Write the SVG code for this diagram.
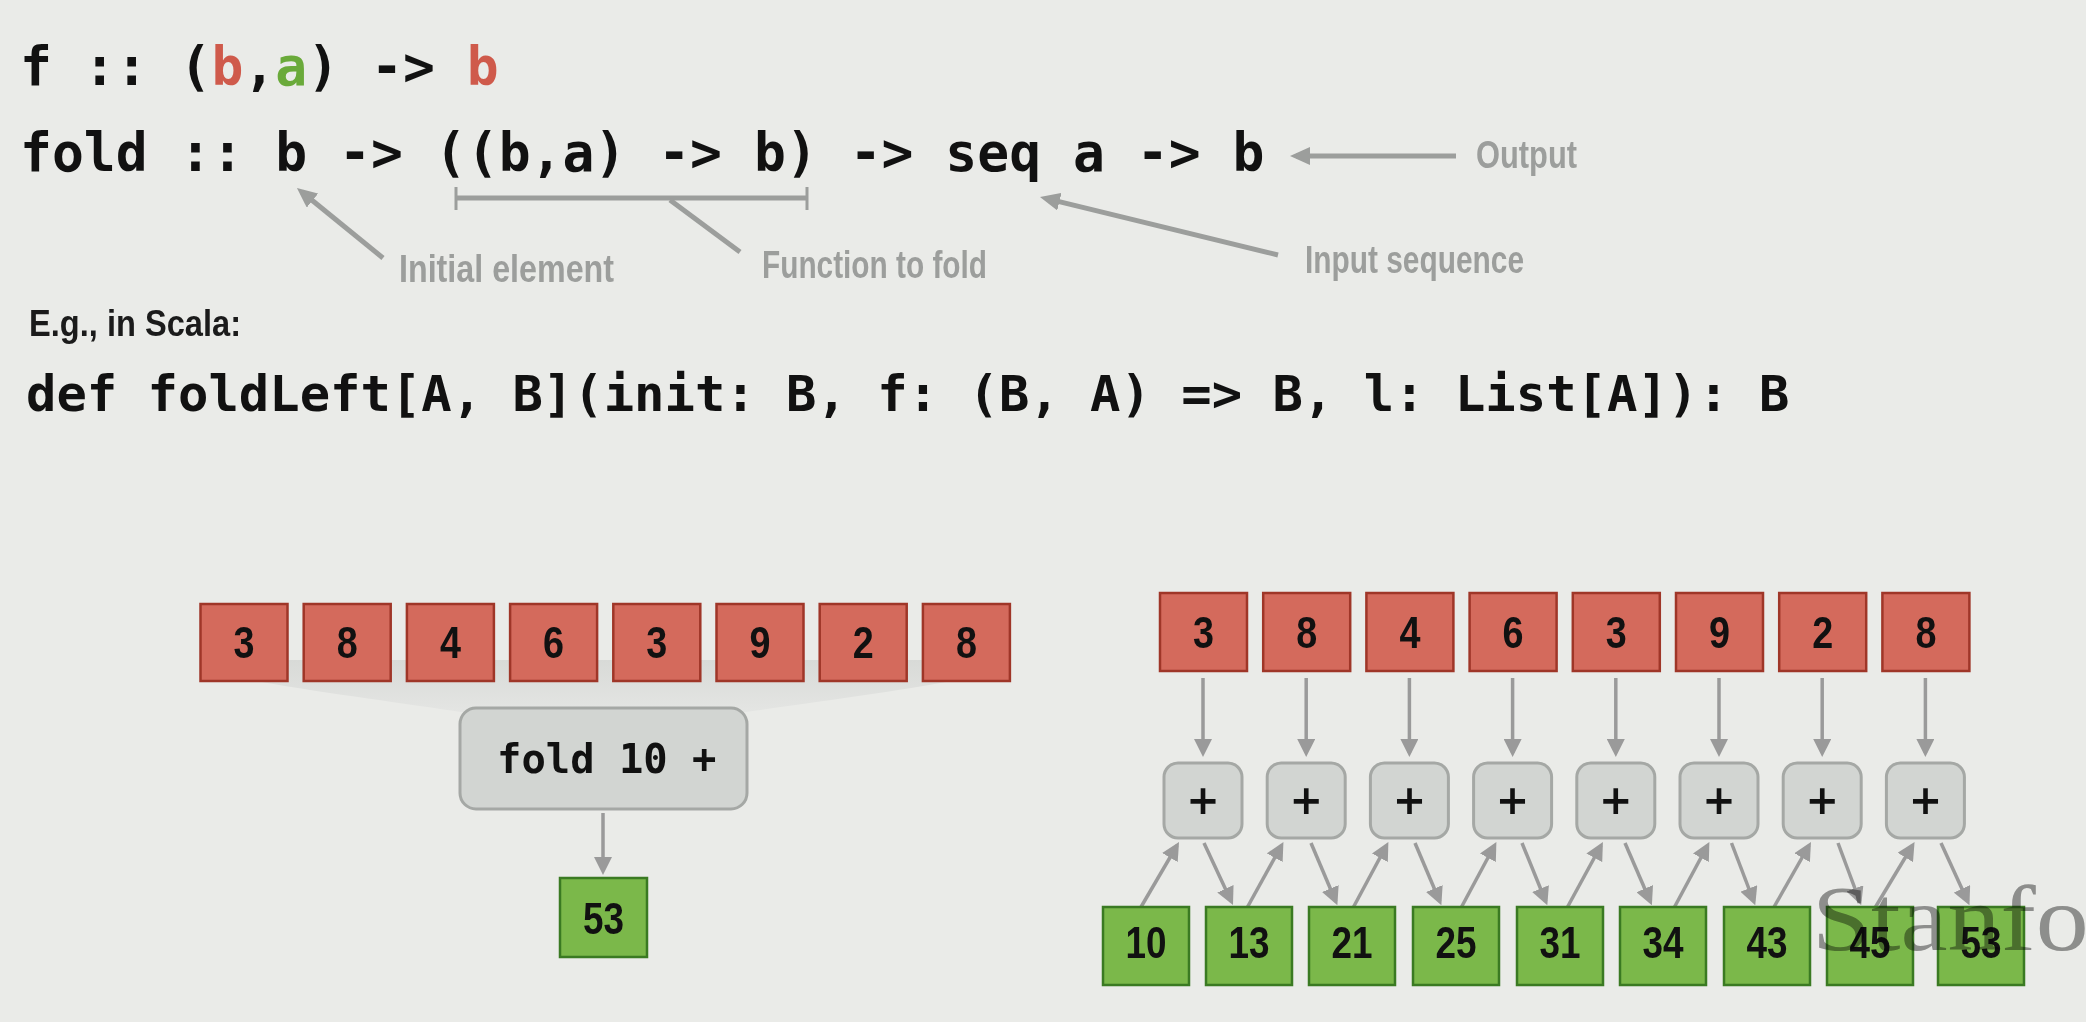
<svg xmlns="http://www.w3.org/2000/svg" width="2086" height="1022" viewBox="0 0 2086 1022">
<style>
.code{font-family:"DejaVu Sans Mono","Liberation Mono",monospace;font-weight:bold;fill:#111;white-space:pre}
.note{font-family:"Liberation Sans",Arial,sans-serif;font-weight:bold;fill:#9c9e9c}
.head{font-family:"Liberation Sans",Arial,sans-serif;font-weight:bold;fill:#1b1b1b}
.red{fill:#d46a5c;stroke:#9f3628;stroke-width:2.5}
.green{fill:#7bb84a;stroke:#3a7a22;stroke-width:2.5}
.op{fill:#d2d5d2;stroke:#a5a8a5;stroke-width:3}
.num{font-family:"Liberation Sans",Arial,sans-serif;font-weight:bold;font-size:44px;fill:#111;text-anchor:middle}
.plus{font-family:"DejaVu Sans",sans-serif;font-weight:bold;font-size:40px;fill:#111;text-anchor:middle}
.ann{stroke:#9c9e9c;stroke-width:5;fill:none}
.arr{stroke:#9a9a9a;stroke-width:3.5;fill:none}
.tick{stroke:#9c9e9c;stroke-width:3;fill:none}
.rb{fill:#cf5a4b}
.ga{fill:#6aaa3a}
</style>
<defs>
<marker id="big" markerUnits="userSpaceOnUse" markerWidth="20" markerHeight="18" refX="14" refY="9" orient="auto">
<path d="M0,0 L20,9 L0,18 z" fill="#9c9e9c"/>
</marker>
<marker id="sm" markerUnits="userSpaceOnUse" markerWidth="18" markerHeight="18" refX="14" refY="9" orient="auto">
<path d="M0,0 L18,9 L0,18 z" fill="#9a9a9a"/>
</marker>
<linearGradient id="shade" x1="0" y1="0" x2="0" y2="1">
<stop offset="0" stop-color="#d8dad7"/>
<stop offset="1" stop-color="#e4e5e3"/>
</linearGradient>
</defs>
<rect x="0" y="0" width="2086" height="1022" fill="#eaebe8"/>

<g id="code">
<text class="code" x="20" y="85" font-size="53">f :: (<tspan class="rb">b</tspan>,<tspan class="ga">a</tspan>) -&gt; <tspan class="rb">b</tspan></text>
<text class="code" x="20" y="171" font-size="53">fold :: b -&gt; ((b,a) -&gt; b) -&gt; seq a -&gt; b</text>
<text class="head" x="29" y="336" font-size="37" textLength="212" lengthAdjust="spacingAndGlyphs">E.g., in Scala:</text>
<text class="code" x="26" y="411" font-size="50.5">def foldLeft[A, B](init: B, f: (B, A) =&gt; B, l: List[A]): B</text>
</g>

<g id="annotations">
<text class="note" x="399" y="282" font-size="38" textLength="215" lengthAdjust="spacingAndGlyphs">Initial element</text>
<text class="note" x="762" y="278" font-size="38" textLength="225" lengthAdjust="spacingAndGlyphs">Function to fold</text>
<text class="note" x="1305" y="273" font-size="38" textLength="219" lengthAdjust="spacingAndGlyphs">Input sequence</text>
<text class="note" x="1476" y="168" font-size="38" textLength="101" lengthAdjust="spacingAndGlyphs">Output</text>
</g>

<g id="connectors">
<line class="ann" x1="383" y1="258" x2="301.6" y2="191.8" marker-end="url(#big)"/>
<line class="ann" x1="456" y1="198" x2="807" y2="198"/>
<line class="tick" x1="456" y1="187" x2="456" y2="210"/>
<line class="tick" x1="807" y1="187" x2="807" y2="210"/>
<line class="ann" x1="670" y1="200" x2="740" y2="252"/>
<line class="ann" x1="1278" y1="255" x2="1045.8" y2="198.4" marker-end="url(#big)"/>
<line class="ann" x1="1456" y1="156" x2="1296" y2="156" marker-end="url(#big)"/>

<line class="arr" x1="603" y1="813" x2="603" y2="871" marker-end="url(#sm)"/>

<line class="arr" x1="1203" y1="678" x2="1203" y2="753" marker-end="url(#sm)"/>
<line class="arr" x1="1306.2" y1="678" x2="1306.2" y2="753" marker-end="url(#sm)"/>
<line class="arr" x1="1409.4" y1="678" x2="1409.4" y2="753" marker-end="url(#sm)"/>
<line class="arr" x1="1512.6" y1="678" x2="1512.6" y2="753" marker-end="url(#sm)"/>
<line class="arr" x1="1615.8" y1="678" x2="1615.8" y2="753" marker-end="url(#sm)"/>
<line class="arr" x1="1719" y1="678" x2="1719" y2="753" marker-end="url(#sm)"/>
<line class="arr" x1="1822.2" y1="678" x2="1822.2" y2="753" marker-end="url(#sm)"/>
<line class="arr" x1="1925.4" y1="678" x2="1925.4" y2="753" marker-end="url(#sm)"/>

<line class="arr" x1="1141" y1="907" x2="1177" y2="845.5" marker-end="url(#sm)"/>
<line class="arr" x1="1247.5" y1="907" x2="1281.5" y2="845.5" marker-end="url(#sm)"/>
<line class="arr" x1="1353.5" y1="907" x2="1386.5" y2="845.5" marker-end="url(#sm)"/>
<line class="arr" x1="1461.5" y1="907" x2="1494.5" y2="845.5" marker-end="url(#sm)"/>
<line class="arr" x1="1567.5" y1="907" x2="1601" y2="845.5" marker-end="url(#sm)"/>
<line class="arr" x1="1674.5" y1="907" x2="1707.5" y2="845.5" marker-end="url(#sm)"/>
<line class="arr" x1="1774" y1="907" x2="1809" y2="845.5" marker-end="url(#sm)"/>
<line class="arr" x1="1875.5" y1="907" x2="1912.5" y2="845.5" marker-end="url(#sm)"/>

<line class="arr" x1="1204" y1="843" x2="1231.3" y2="901.5" marker-end="url(#sm)"/>
<line class="arr" x1="1311" y1="843" x2="1335.8" y2="901.5" marker-end="url(#sm)"/>
<line class="arr" x1="1415" y1="843" x2="1439.8" y2="901.5" marker-end="url(#sm)"/>
<line class="arr" x1="1522" y1="843" x2="1545.8" y2="901.5" marker-end="url(#sm)"/>
<line class="arr" x1="1625" y1="843" x2="1650.3" y2="901.5" marker-end="url(#sm)"/>
<line class="arr" x1="1731.5" y1="843" x2="1753.8" y2="901.5" marker-end="url(#sm)"/>
<line class="arr" x1="1838" y1="843" x2="1859.8" y2="901.5" marker-end="url(#sm)"/>
<line class="arr" x1="1941" y1="843" x2="1967.8" y2="901.5" marker-end="url(#sm)"/>
</g>

<path id="funnel" d="M262 660 L946 660 L946 682 C880 694 800 704 746 712 L461 712 C410 704 330 694 262 682 Z" fill="url(#shade)"/>

<g id="left-inputs">
<g id="L0"><rect class="red" x="200.5" y="604" width="87" height="77"/><text class="num" x="244" y="658" textLength="21" lengthAdjust="spacingAndGlyphs">3</text></g>
<g id="L1"><rect class="red" x="303.7" y="604" width="87" height="77"/><text class="num" x="347.2" y="658" textLength="21" lengthAdjust="spacingAndGlyphs">8</text></g>
<g id="L2"><rect class="red" x="406.9" y="604" width="87" height="77"/><text class="num" x="450.4" y="658" textLength="21" lengthAdjust="spacingAndGlyphs">4</text></g>
<g id="L3"><rect class="red" x="510.1" y="604" width="87" height="77"/><text class="num" x="553.6" y="658" textLength="21" lengthAdjust="spacingAndGlyphs">6</text></g>
<g id="L4"><rect class="red" x="613.3" y="604" width="87" height="77"/><text class="num" x="656.8" y="658" textLength="21" lengthAdjust="spacingAndGlyphs">3</text></g>
<g id="L5"><rect class="red" x="716.5" y="604" width="87" height="77"/><text class="num" x="760" y="658" textLength="21" lengthAdjust="spacingAndGlyphs">9</text></g>
<g id="L6"><rect class="red" x="819.7" y="604" width="87" height="77"/><text class="num" x="863.2" y="658" textLength="21" lengthAdjust="spacingAndGlyphs">2</text></g>
<g id="L7"><rect class="red" x="922.9" y="604" width="87" height="77"/><text class="num" x="966.4" y="658" textLength="21" lengthAdjust="spacingAndGlyphs">8</text></g>
</g>

<g id="fold-box">
<rect class="op" x="460" y="708" width="287" height="101" rx="16"/>
<text class="code" x="497" y="773" font-size="40.5">fold 10 +</text>
</g>

<g id="left-result">
<rect class="green" x="560" y="878" width="87" height="79"/>
<text class="num" x="603.5" y="934" textLength="41" lengthAdjust="spacingAndGlyphs">53</text>
</g>

<g id="right-inputs">
<g id="R0"><rect class="red" x="1160" y="593" width="87" height="78"/><text class="num" x="1203.5" y="648" textLength="21" lengthAdjust="spacingAndGlyphs">3</text></g>
<g id="R1"><rect class="red" x="1263.2" y="593" width="87" height="78"/><text class="num" x="1306.7" y="648" textLength="21" lengthAdjust="spacingAndGlyphs">8</text></g>
<g id="R2"><rect class="red" x="1366.4" y="593" width="87" height="78"/><text class="num" x="1409.9" y="648" textLength="21" lengthAdjust="spacingAndGlyphs">4</text></g>
<g id="R3"><rect class="red" x="1469.6" y="593" width="87" height="78"/><text class="num" x="1513.1" y="648" textLength="21" lengthAdjust="spacingAndGlyphs">6</text></g>
<g id="R4"><rect class="red" x="1572.8" y="593" width="87" height="78"/><text class="num" x="1616.3" y="648" textLength="21" lengthAdjust="spacingAndGlyphs">3</text></g>
<g id="R5"><rect class="red" x="1676" y="593" width="87" height="78"/><text class="num" x="1719.5" y="648" textLength="21" lengthAdjust="spacingAndGlyphs">9</text></g>
<g id="R6"><rect class="red" x="1779.2" y="593" width="87" height="78"/><text class="num" x="1822.7" y="648" textLength="21" lengthAdjust="spacingAndGlyphs">2</text></g>
<g id="R7"><rect class="red" x="1882.4" y="593" width="87" height="78"/><text class="num" x="1925.9" y="648" textLength="21" lengthAdjust="spacingAndGlyphs">8</text></g>
</g>

<g id="plus-ops">
<g id="P0"><rect class="op" x="1164" y="763" width="78" height="75" rx="14"/><text class="plus" x="1203" y="814">+</text></g>
<g id="P1"><rect class="op" x="1267.2" y="763" width="78" height="75" rx="14"/><text class="plus" x="1306.2" y="814">+</text></g>
<g id="P2"><rect class="op" x="1370.4" y="763" width="78" height="75" rx="14"/><text class="plus" x="1409.4" y="814">+</text></g>
<g id="P3"><rect class="op" x="1473.6" y="763" width="78" height="75" rx="14"/><text class="plus" x="1512.6" y="814">+</text></g>
<g id="P4"><rect class="op" x="1576.8" y="763" width="78" height="75" rx="14"/><text class="plus" x="1615.8" y="814">+</text></g>
<g id="P5"><rect class="op" x="1680" y="763" width="78" height="75" rx="14"/><text class="plus" x="1719" y="814">+</text></g>
<g id="P6"><rect class="op" x="1783.2" y="763" width="78" height="75" rx="14"/><text class="plus" x="1822.2" y="814">+</text></g>
<g id="P7"><rect class="op" x="1886.4" y="763" width="78" height="75" rx="14"/><text class="plus" x="1925.4" y="814">+</text></g>
</g>

<g id="accumulators">
<g id="A0"><rect class="green" x="1103" y="907" width="86" height="78"/><text class="num" x="1146" y="958" textLength="41" lengthAdjust="spacingAndGlyphs">10</text></g>
<g id="A1"><rect class="green" x="1206" y="907" width="86" height="78"/><text class="num" x="1249" y="958" textLength="41" lengthAdjust="spacingAndGlyphs">13</text></g>
<g id="A2"><rect class="green" x="1309" y="907" width="86" height="78"/><text class="num" x="1352" y="958" textLength="41" lengthAdjust="spacingAndGlyphs">21</text></g>
<g id="A3"><rect class="green" x="1413" y="907" width="86" height="78"/><text class="num" x="1456" y="958" textLength="41" lengthAdjust="spacingAndGlyphs">25</text></g>
<g id="A4"><rect class="green" x="1517" y="907" width="86" height="78"/><text class="num" x="1560" y="958" textLength="41" lengthAdjust="spacingAndGlyphs">31</text></g>
<g id="A5"><rect class="green" x="1620" y="907" width="86" height="78"/><text class="num" x="1663" y="958" textLength="41" lengthAdjust="spacingAndGlyphs">34</text></g>
<g id="A6"><rect class="green" x="1724" y="907" width="86" height="78"/><text class="num" x="1767" y="958" textLength="41" lengthAdjust="spacingAndGlyphs">43</text></g>
<g id="A7"><rect class="green" x="1827" y="907" width="86" height="78"/><text class="num" x="1870" y="958" textLength="41" lengthAdjust="spacingAndGlyphs">45</text></g>
<g id="A8"><rect class="green" x="1938" y="907" width="86" height="78"/><text class="num" x="1981" y="958" textLength="41" lengthAdjust="spacingAndGlyphs">53</text></g>
</g>

<text id="watermark" transform="translate(1812,950) scale(1,0.88)" x="0" y="0" font-family="Liberation Serif, 'Times New Roman', serif" font-size="106" fill="#9a9a9a" style="mix-blend-mode:multiply">Stanford</text>
</svg>
